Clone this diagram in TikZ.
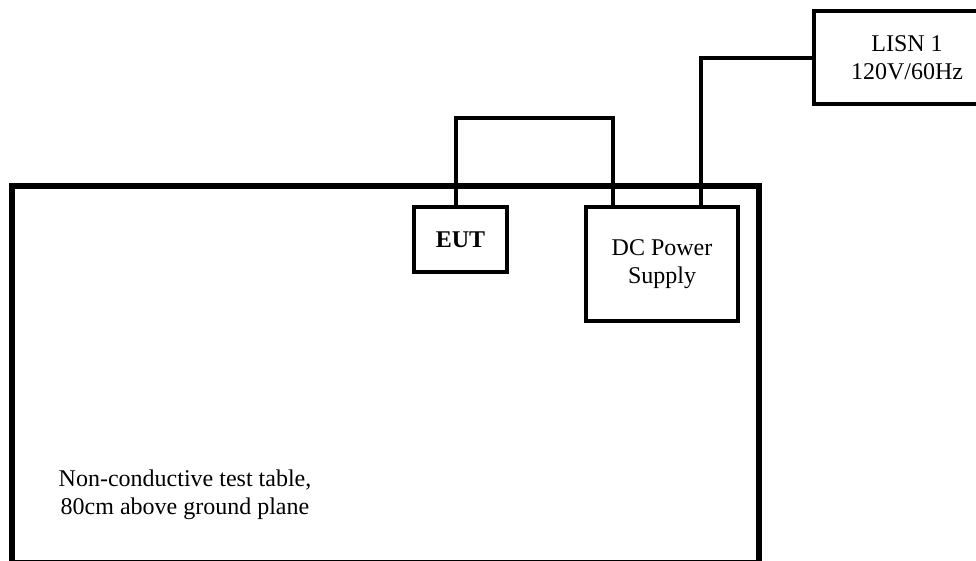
\documentclass[tikz,border=0pt]{standalone}
\usepackage{fontspec}
\setmainfont{Liberation Serif}
\usetikzlibrary{positioning, calc}

\begin{document}
\begin{tikzpicture}[x=1pt,y=-1pt]
\tikzset{
  bx/.style={rectangle,draw=black,line width=4pt,inner sep=0pt,align=center,font=\fontsize{24}{28}\selectfont},
  tb/.style={rectangle,draw=black,line width=6pt,inner sep=0pt},
  wr/.style={draw=black,line width=4pt},
  tx/.style={font=\fontsize{24}{28}\selectfont,align=center,inner sep=0pt}
}
\useasboundingbox (0,0) rectangle (976,560);
\node[tb,minimum width=747pt,minimum height=377.5pt] (table) at (385.5,374.25) {};
\node[tx] (tabletext) at (185,495) {Non-conductive test table,\\80cm above ground plane};
\node[bx,minimum width=93pt,minimum height=65pt] (eut) at (460.5,239.5) {\textbf{EUT}};
\node[bx,minimum width=152pt,minimum height=114pt] (dc) at (662,264) {DC Power\\Supply};
\node[bx,minimum width=186pt,minimum height=93pt] (lisn) at (907,57.5) {LISN 1\\120V/60Hz};
\draw[wr] ([xshift=-4.5pt]eut.north) -- ++(0,-87) -| ([xshift=-49pt]dc.north);
\draw[wr] ([xshift=39pt]dc.north) |- (lisn.west);
\end{tikzpicture}
\end{document}
